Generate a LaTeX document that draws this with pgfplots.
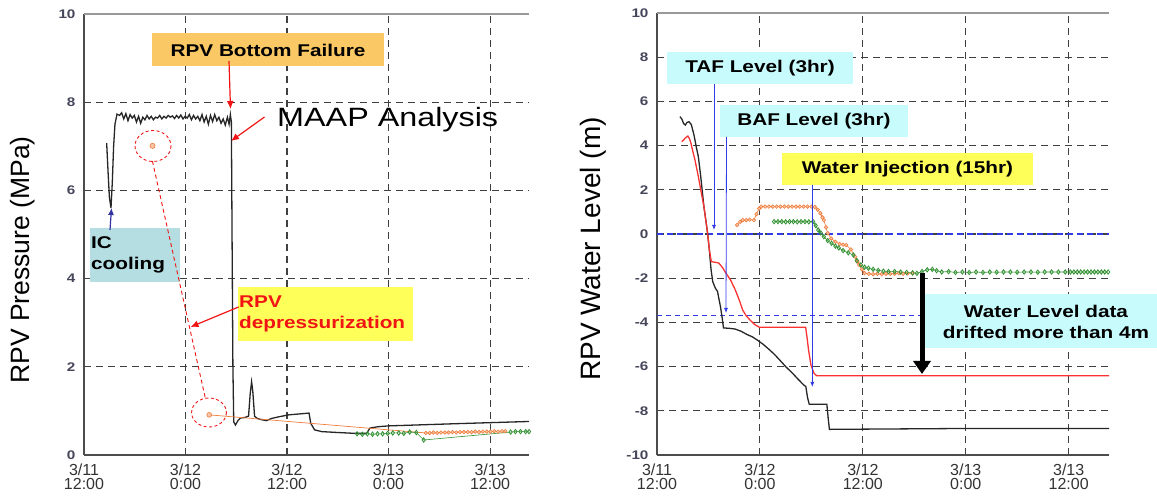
\documentclass[border=0pt]{standalone}
\usepackage{pgfplots}
\pgfplotsset{compat=1.18}
\usepackage{fontspec}
\setmainfont{Liberation Sans}
\newfontfamily\wide[FakeStretch=1.22]{Liberation Sans}
\usetikzlibrary{arrows.meta}

\definecolor{orgbox}{RGB}{250,200,100}
\definecolor{icbox}{RGB}{180,222,226}
\definecolor{ybox}{RGB}{255,255,90}
\definecolor{cbox}{RGB}{200,252,252}
\definecolor{morange}{RGB}{240,125,60}
\definecolor{mgreen}{RGB}{50,145,50}
\definecolor{ared}{RGB}{240,20,20}
\definecolor{ablue}{RGB}{50,60,230}
\definecolor{icblue}{RGB}{50,50,160}
\definecolor{lred}{RGB}{250,50,50}
\definecolor{tickc}{RGB}{70,70,90}

\newcommand\boxfont{\wide\bfseries\fontsize{17}{21}\selectfont}

\pgfplotsset{
  panel/.style={
    scale only axis, anchor=south west,
    xmin=0,
    xtick={0,12,24,36,48},
    xticklabels={{3/11\\12:00},{3/12\\0:00},{3/12\\12:00},{3/13\\0:00},{3/13\\12:00}},
    xticklabel style={align=center, font=\fontsize{16}{14}\selectfont, text=black!80, yshift=-5pt},
    yticklabel style={font=\wide\bfseries\fontsize{12.5}{12.5}\selectfont, text=tickc, xshift=-5pt},
    major tick length=0pt,
    grid=major,
    major grid style={black!75, line width=1.1pt, dash pattern=on 7pt off 5pt},
    axis x line*=bottom, axis y line*=left,
    axis line style={black!70, line width=1.6pt, -},
    ylabel style={font=\fontsize{27}{27}\selectfont, anchor=center},
    after end axis/.code={\draw[black!40, line width=1.4pt] (rel axis cs:0,1) -- (rel axis cs:1,1);},
  },
  omark/.style={color=morange, line width=0.6pt, mark=*, mark size=1.8pt, mark options={fill=morange!45!white, draw=morange, line width=0.6pt}},
  gmark/.style={color=mgreen, line width=0.6pt, mark=diamond, mark size=2.2pt, mark options={fill=white, draw=mgreen, line width=0.8pt}},
}

\begin{document}
\begin{tikzpicture}
\path[use as bounding box] (0,0) rectangle (1157pt,497pt);

% ---------- left panel: pressure ----------
\begin{axis}[panel,
  at={(84pt,42pt)}, width=445pt, height=441pt,
  xmax=52.6, ymin=0, ymax=10,
  ytick={0,2,4,6,8,10}, yticklabels={0,2,4,6,8,10},
  ylabel={RPV Pressure (MPa)},
  ylabel style={at={(rel axis cs:-0.137,0.442)}, font=\fontsize{26.5}{26.5}\selectfont},
]
\addplot[black!85, line width=1.3pt] coordinates {
(2.68,7.07) (2.85,6.4) (3.0,5.85) (3.19,5.6) (3.35,6.2) (3.5,7.0) (3.66,7.5) (3.9,7.73)
(4.2,7.70) (4.45,7.76) (4.7,7.62) (4.95,7.74) (5.2,7.58) (5.45,7.72) (5.7,7.64) (5.95,7.70)
(6.2,7.55) (6.45,7.68) (6.7,7.52) (6.95,7.66) (7.2,7.60) (7.45,7.70) (7.7,7.62) (7.95,7.68)
(8.2,7.60) (8.45,7.66) (8.7,7.64) (8.95,7.70) (9.2,7.62) (9.45,7.68) (9.7,7.64) (9.95,7.70)
(10.2,7.66) (10.45,7.69) (10.7,7.63) (10.95,7.70) (11.2,7.64) (11.45,7.71) (11.7,7.62) (11.95,7.68)
(12.2,7.64) (12.45,7.72) (12.7,7.60) (12.95,7.70) (13.2,7.62) (13.45,7.68) (13.7,7.58) (13.95,7.72)
(14.2,7.55) (14.45,7.68) (14.7,7.50) (14.95,7.70) (15.2,7.56) (15.45,7.72) (15.7,7.58) (15.95,7.66)
(16.2,7.52) (16.45,7.62) (16.7,7.48) (16.95,7.66) (17.15,7.50) (17.3,7.72) (17.42,7.55)
(17.5,5.0) (17.6,2.0) (17.7,0.75) (17.9,0.68) (18.2,0.78) (18.5,0.84) (19.0,0.85) (19.45,0.88)
(19.65,1.4) (19.81,1.66) (19.95,1.45) (20.16,0.88) (20.47,0.83) (21.0,0.80) (21.56,0.78)
(22.2,0.83) (22.88,0.86) (24.19,0.91) (25.4,0.93) (26.6,0.95) (26.8,0.72) (27.25,0.57)
(28.1,0.53) (30,0.51) (32.07,0.49) (33.4,0.49) (33.8,0.61) (34.7,0.64) (36,0.66) (44,0.71) (52.6,0.76)
};
% orange: measured points
\addplot[omark, only marks, mark size=2.6pt] coordinates {(8.1,7.01)};
\addplot[color=morange, line width=0.7pt] coordinates {(14.8,0.91) (40.4,0.50)};
\addplot[omark, only marks, mark size=2.4pt] coordinates {(14.8,0.91)};
\addplot[omark] coordinates {
(40.4,0.50) (40.85,0.50) (41.3,0.51) (41.75,0.50) (42.2,0.51) (42.65,0.51) (43.1,0.51) (43.55,0.52)
(44.0,0.51) (44.45,0.52) (44.9,0.52) (45.35,0.52) (45.8,0.52) (46.25,0.53) (46.7,0.52) (47.15,0.53)
(47.6,0.53) (48.05,0.53) (48.5,0.54) (48.95,0.53) (49.4,0.54) (49.8,0.54)
};
% green
\addplot[gmark] coordinates {
(32.28,0.48) (32.9,0.47) (33.5,0.48) (34.1,0.47) (34.7,0.48) (35.3,0.48) (35.9,0.49) (36.5,0.50)
(37.2,0.50) (37.8,0.49) (38.5,0.52) (39.28,0.51) (40.15,0.34) (50.43,0.52) (51.0,0.53) (51.6,0.53)
(52.2,0.53) (52.6,0.53)
};
\end{axis}

% ---------- right panel: water level ----------
\begin{axis}[panel,
  at={(657pt,42pt)}, width=452pt, height=442pt,
  xmax=52.7, ymin=-10, ymax=10,
  ytick={-10,-8,-6,-4,-2,0,2,4,6,8,10}, yticklabels={-10,-8,-6,-4,-2,0,2,4,6,8,10},
  ylabel={RPV Water Level (m)},
  ylabel style={at={(rel axis cs:-0.142,0.466)}, font=\fontsize{28}{28}\selectfont},
]
\addplot[ablue, line width=1.2pt, dash pattern=on 6pt off 4pt] coordinates {(0,0) (52.7,0)};
\addplot[ablue, line width=1pt, dash pattern=on 5pt off 4pt] coordinates {(0,-3.7) (31.1,-3.7)};
\addplot[black!85, line width=1.3pt] coordinates {
(2.67,5.31) (2.9,5.2) (3.1,5.0) (3.3,4.93) (3.5,5.05) (3.73,5.08) (4.0,4.95) (4.3,4.5) (4.6,3.9)
(4.82,3.5) (5.1,2.6) (5.47,1.24) (5.7,0.6) (5.9,0.03) (6.1,-0.72) (6.3,-1.6) (6.5,-2.16) (6.8,-2.45)
(7.06,-2.6) (7.2,-2.9) (7.4,-3.29) (7.6,-3.8) (7.75,-4.25) (8.5,-4.27) (9.1,-4.3) (9.8,-4.4)
(10.5,-4.55) (11.1,-4.65) (11.7,-4.8) (12.4,-5.0) (13.0,-5.2) (13.7,-5.45) (14.3,-5.7) (15.0,-6.0)
(15.8,-6.3) (16.4,-6.55) (17.1,-6.83) (17.35,-6.9) (17.55,-7.4) (17.75,-7.7) (19.8,-7.7)
(19.95,-8.3) (20.1,-8.84) (36,-8.8) (52.7,-8.8)
};
\addplot[lred, line width=1.3pt] coordinates {
(2.88,4.18) (3.1,4.25) (3.3,4.35) (3.6,4.43) (3.8,4.3) (3.96,4.1) (4.2,3.7) (4.4,3.4) (4.82,2.6)
(5.1,2.0) (5.47,1.24) (5.9,0.03) (6.1,-0.7) (6.33,-1.25) (7.19,-1.31) (7.6,-1.5) (8.04,-1.77)
(8.6,-2.1) (9.13,-2.53) (9.6,-3.0) (9.99,-3.44) (10.4,-3.7) (10.84,-3.89) (11.4,-4.1) (11.93,-4.22)
(17.33,-4.22) (17.5,-4.7) (17.67,-5.25) (17.95,-5.93) (18.3,-6.3) (18.6,-6.41) (52.7,-6.41)
};
\addplot[omark] coordinates {
(9.34,0.41) (9.7,0.55) (10.0,0.63) (10.4,0.63) (10.8,0.65) (11.3,0.63) (11.6,0.9) (11.9,1.15)
(12.15,1.24) (12.6,1.24) (13.05,1.24) (13.5,1.24) (13.95,1.24) (14.4,1.24) (14.85,1.24) (15.3,1.24)
(15.75,1.24) (16.2,1.24) (16.65,1.24) (17.1,1.24) (17.55,1.24) (18.0,1.24) (18.4,1.22) (18.75,1.1)
(19.05,0.94) (19.3,0.75) (19.45,0.63) (19.7,0.3) (19.9,0.04) (20.3,-0.2) (20.8,-0.35) (21.3,-0.45)
(21.7,-0.48) (22.06,-0.5) (22.6,-0.7) (23.1,-1.03) (23.35,-1.25) (23.57,-1.4) (23.9,-1.6) (24.2,-1.77)
(24.7,-1.8) (25.2,-1.82) (25.7,-1.8) (26.2,-1.82) (26.7,-1.8) (27.2,-1.8) (27.7,-1.8) (28.2,-1.78)
(28.7,-1.8) (29.2,-1.78) (29.8,-1.78)
};
\addplot[gmark] coordinates {
(13.65,0.56) (14.1,0.56) (14.55,0.56) (15.0,0.55) (15.45,0.56) (15.9,0.56) (16.35,0.55) (16.8,0.56)
(17.25,0.56) (17.7,0.55) (18.2,0.56) (18.5,0.38) (18.8,0.18) (19.1,0.05) (19.45,-0.12) (19.9,-0.3)
(20.35,-0.42) (20.8,-0.55) (21.2,-0.63) (21.7,-0.75) (22.3,-0.85) (22.9,-0.95) (23.3,-1.2) (23.77,-1.4)
(24.2,-1.5) (24.65,-1.55) (25.2,-1.6) (25.8,-1.65) (26.4,-1.68) (27.0,-1.7) (27.7,-1.7) (28.4,-1.72)
(29.1,-1.74) (29.8,-1.76) (30.3,-1.78) (30.9,-1.7) (31.5,-1.62) (32.1,-1.6) (32.6,-1.66) (33.2,-1.72)
(34.0,-1.7) (34.8,-1.74) (35.6,-1.72) (36.4,-1.74) (37.2,-1.72) (38.0,-1.74) (38.8,-1.72) (39.6,-1.73)
(40.4,-1.72) (41.2,-1.72) (42.0,-1.73) (42.8,-1.72) (43.6,-1.72) (44.4,-1.73) (45.2,-1.72) (46.0,-1.72)
(46.8,-1.72) (47.6,-1.72) (48.2,-1.72) (48.6,-1.72) (49.0,-1.72) (49.4,-1.72) (49.8,-1.72) (50.2,-1.72)
(50.6,-1.72) (51.0,-1.72) (51.4,-1.72) (51.8,-1.72) (52.2,-1.72) (52.6,-1.72)
};
\end{axis}

% ---------- annotations (pixel frame, y downwards) ----------
\begin{scope}[x=1pt, y=1pt, shift={(0pt,497pt)}, yscale=-1]
  % left panel
  \fill[orgbox] (152,33) rectangle (384,66);
  \node[font=\boxfont] at (268,50) {RPV Bottom Failure};
  \draw[ared, line width=1.2pt, -{Latex[length=8pt,width=7pt]}] (229,61) -- (230.5,109);
  \node[anchor=west, inner sep=0pt, font=\wide\fontsize{26.5}{26.5}\selectfont] at (277,120) {MAAP Analysis};
  \draw[ared, line width=1.2pt, -{Latex[length=8pt,width=7pt]}] (264.5,117) -- (231,141);

  \fill[icbox] (90,228) rectangle (180,282);
  \node[anchor=west, align=left, inner sep=1pt, font=\boxfont] at (90,255) {IC\\cooling};
  \draw[icblue, line width=1.2pt, -{Latex[length=7pt,width=6pt]}] (110,230) -- (111.5,208);

  \draw[ared, line width=0.9pt, dash pattern=on 3pt off 2.5pt] (153,146) ellipse [x radius=18, y radius=15.5];
  \draw[ared, line width=0.9pt, dash pattern=on 3pt off 2.5pt] (209,412.5) ellipse [x radius=17.4, y radius=14.5];
  \draw[ared, line width=0.9pt, dash pattern=on 4pt off 3pt] (152.4,161) -- (205.3,398);

  \fill[ybox] (238,287) rectangle (413,341);
  \node[anchor=west, align=left, inner sep=1pt, text=ared, font=\boxfont] at (238,314) {RPV\\depressurization};
  \draw[ared, line width=1.2pt, -{Latex[length=8pt,width=7pt]}] (238.6,307) -- (190.5,327);

  % right panel
  \fill[cbox] (667,52) rectangle (853,84);
  \node[font=\boxfont] at (760,68) {TAF Level (3hr)};
  \fill[cbox] (720,105) rectangle (908,137);
  \node[font=\boxfont] at (814,121) {BAF Level (3hr)};
  \fill[ybox] (782,153) rectangle (1033,185);
  \node[font=\boxfont] at (907.5,169) {Water Injection (15hr)};
  \draw[ablue, line width=0.8pt, -{Latex[length=5pt,width=4pt]}] (714,84) -- (714,230);
  \draw[ablue, line width=0.8pt, -{Latex[length=5pt,width=4pt]}] (726.5,137) -- (726,313);
  \draw[ablue, line width=0.8pt, -{Latex[length=5pt,width=4pt]}] (812.3,185) -- (812.3,387);

  \fill[cbox] (925,294) rectangle (1157,348);
  \node[align=center, font=\boxfont] at (1046,321.5) {Water Level data\\drifted more than 4m};
  \draw[black, line width=5pt, -{Triangle[length=13pt,width=17pt]}] (922,273) -- (922,374);
\end{scope}
\end{tikzpicture}
\end{document}
